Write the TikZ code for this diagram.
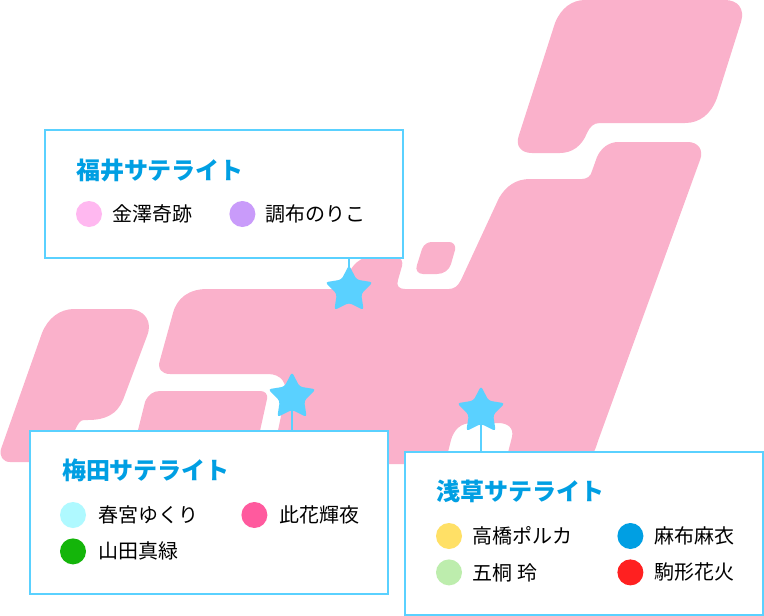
\documentclass[tikz,border=0pt]{standalone}
\usepackage{fontspec}
\setmainfont{Noto Sans CJK JP}
\usetikzlibrary{positioning}
\usetikzlibrary{shapes.geometric}

\definecolor{mappink}{HTML}{FAB1CB}
\definecolor{skyline}{HTML}{5AD1FF}
\definecolor{titleblue}{HTML}{009FE3}
\definecolor{kinpink}{HTML}{FFB8F0}
\definecolor{chopurple}{HTML}{C99BFA}
\definecolor{harcyan}{HTML}{AFF9FF}
\definecolor{konrose}{HTML}{FF5A9E}
\definecolor{yamgreen}{HTML}{14B50A}
\definecolor{takyellow}{HTML}{FFE066}
\definecolor{gotgreen}{HTML}{BDEDAD}
\definecolor{komred}{HTML}{FF2020}

\begin{document}
\begin{tikzpicture}[x = 1pt, y = -1pt, node distance = 10pt and 10pt,
                    land/.style = {fill = mappink, draw = none},
                    satbox/.style = {rectangle,
                                     draw = skyline,
                                     fill = white,
                                     line width = 2pt},
                    satstar/.style = {star,
                                      star points = 5,
                                      star point ratio = 1.95,
                                      fill = skyline,
                                      inner sep = 0pt,
                                      rounded corners = 3pt,
                                      minimum size = 50pt},
                    link/.style = {draw = skyline, line width = 2pt},
                    title/.style = {anchor = west,
                                    inner sep = 0pt,
                                    text = titleblue,
                                    font = \fontsize{24}{28}\selectfont\bfseries},
                    dot/.style = {circle,
                                  inner sep = 0pt,
                                  minimum size = 26pt},
                    member/.style = {inner sep = 0pt,
                                     text = black,
                                     font = \fontsize{20}{24}\selectfont}]

\useasboundingbox (0,0) rectangle (764,616);

% the islands
\fill[land] (555,23) .. controls (561,8) and (572,0) .. (585,0)
  -- (725,0) .. controls (738,0) and (745,9) .. (741,22)
  -- (717,98) .. controls (711,114) and (700,123) .. (685,123)
  -- (600,123) .. controls (593,123) and (590,127) .. (587,133)
  .. controls (582,146) and (572,153) .. (560,153)
  -- (532,153) .. controls (521,153) and (515,146) .. (519,135) -- cycle;

\fill[land] (597,157) .. controls (601,148) and (609,142) .. (618,142)
  -- (688,142) .. controls (698,142) and (704,150) .. (700,160)
  -- (598,441) .. controls (594,455) and (588,464) .. (578,464)
  -- (505,464) -- (512,437) .. controls (514,428) and (508,423) .. (498,423)
  -- (472,423) .. controls (460,423) and (454,430) .. (451,440)
  -- (445,464) -- (271,464)
  -- (285,397) .. controls (288,383) and (281,374) .. (268,374)
  -- (170,374) .. controls (162,374) and (157,369) .. (160,360)
  -- (173,313) .. controls (177,298) and (189,289) .. (207,289)
  -- (345,289) .. controls (346,270) and (358,257) .. (370,257)
  -- (395,257) .. controls (402,257) and (403,262) .. (402,266)
  -- (398,280) .. controls (396,286) and (399,289) .. (405,289)
  -- (449,289) .. controls (454,289) and (458,286) .. (461,280)
  -- (499,198) .. controls (506,186) and (516,179) .. (530,179)
  -- (582,179) .. controls (587,179) and (591,176) .. (592,171) -- cycle;

\fill[land] (422,249) .. controls (424,244) and (428,242) .. (432,242)
  -- (449,242) .. controls (453,242) and (456,245) .. (455,250)
  -- (451,264) .. controls (449,270) and (444,274) .. (437,274)
  -- (423,274) .. controls (418,274) and (415,270) .. (417,265) -- cycle;

\fill[land] (42,333) .. controls (48,318) and (60,309) .. (74,309)
  -- (128,309) .. controls (145,309) and (153,322) .. (147,336)
  -- (123,400) .. controls (117,414) and (106,420) .. (88,420)
  -- (84,420) .. controls (80,420) and (78,424) .. (75,430)
  -- (70,462) -- (10,462) .. controls (3,462) and (-1,456) .. (1,449) -- cycle;

\fill[land] (138,430) -- (145,402) .. controls (148,395) and (153,391) .. (160,391)
  -- (260,391) .. controls (265,391) and (268,394) .. (267,399)
  -- (258,440) -- (135,440) -- cycle;

% the three satellites
\node[satstar] (starF) at (349,290) {};
\node[satstar] (starU) at (292,397) {};
\node[satstar] (starA) at (481,411) {};

\node[satbox, minimum width = 358pt, minimum height = 128pt] (boxF) at (224,194) {};
\node[satbox, minimum width = 358pt, minimum height = 163pt] (boxU) at (209,512.5) {};
\node[satbox, minimum width = 358pt, minimum height = 163pt] (boxA) at (584,533.5) {};

\path[link] (starF.center) -- (starF.center |- boxF.south);
\path[link] (starU.center) -- (starU.center |- boxU.north);
\path[link] (starA.center) -- (starA.center |- boxA.north);

% Fukui
\node[title] (titleF) at (75.8,170) {福井サテライト};
\node[dot, fill = kinpink] (kin) at (89,214) {};
\node[dot, fill = chopurple, right = 127pt of kin] (cho) {};
\node[member, right = of kin] (kinN) {金澤奇跡};
\node[member, right = of cho] (choN) {調布のりこ};

% Umeda
\node[title] (titleU) at (61.8,470) {梅田サテライト};
\node[dot, fill = harcyan] (har) at (73,515) {};
\node[dot, fill = konrose, right = 155pt of har] (kon) {};
\node[dot, fill = yamgreen, below = of har] (yam) {};
\node[member, right = 12.5pt of har] (harN) {春宮ゆくり};
\node[member, right = 12pt of kon] (konN) {此花輝夜};
\node[member, right = 12.5pt of yam] (yamN) {山田真緑};

% Asakusa
\node[title] (titleA) at (435.8,491) {浅草サテライト};
\node[dot, fill = takyellow] (tak) at (449,536) {};
\node[dot, fill = titleblue, right = 155pt of tak] (aza) {};
\node[dot, fill = gotgreen, below = of tak] (got) {};
\node[dot, fill = komred, below = of aza] (kom) {};
\node[member, right = 10.5pt of tak] (takN) {高橋ポルカ};
\node[member, right = 10.5pt of aza] (azaN) {麻布麻衣};
\node[member, right = 10.5pt of got] (gotN) {五桐 玲};
\node[member, right = 10.5pt of kom] (komN) {駒形花火};

\end{tikzpicture}
\end{document}
